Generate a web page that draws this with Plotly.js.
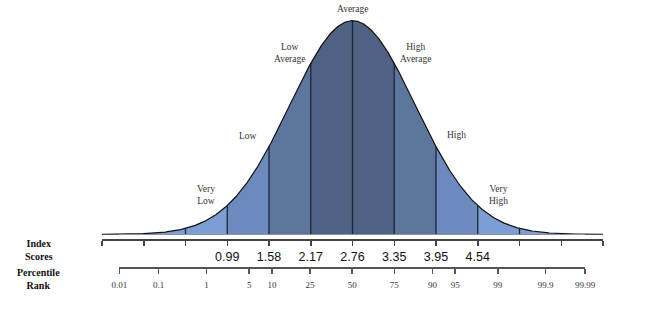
<!DOCTYPE html>
<html>
<head>
<meta charset="utf-8">
<script src="https://cdn.plot.ly/plotly-3.0.1.min.js"></script>
<style>html,body{margin:0;padding:0;background:#fff}#chart{width:650px;height:321px}</style>
</head>
<body>
<div id="chart"></div>
<script>
// ---- data ----
var categories = ['Very<br>Low', 'Low', 'Low<br>Average', 'Average', 'High<br>Average', 'High', 'Very<br>High'];
var categoryCenters = [-3.5, -2.5, -1.5, 0, 1.5, 2.5, 3.5];          // in band units (1 band = 2/3 SD)
var categoryLabelHeights = [0.183, 0.461, 0.851, 1.055, 0.851, 0.465, 0.183]; // relative to peak
var bandEdges = [-6, -5, -4, -3, -2, -1, 0, 1, 2, 3, 4, 5, 6];        // index-score tick positions
var indexScoreLabels = ['', '', '', '0.99', '1.58', '2.17', '2.76', '3.35', '3.95', '4.54', '', '', ''];
var dividerPositions = [-4, -3, -2, -1, 0, 1, 2, 3, 4];
var percentileLabels = ['0.01', '0.1', '1', '5', '10', '25', '50', '75', '90', '95', '99', '99.9', '99.99'];
var percentileZ = [-3.719, -3.090, -2.326, -1.645, -1.282, -0.674, 0, 0.674, 1.282, 1.645, 2.326, 3.090, 3.719];
var curveSigma = 1.5; // SD of the curve in band units
var fillSegments = [[-6, -3], [-3, -2], [-2, -1], [-1, 1], [1, 2], [2, 3], [3, 6]];
var fillColors = ['#7d9ed5', '#6c8abd', '#5c769e', '#4e6283', '#5c769e', '#6c8abd', '#7d9ed5'];

// ---- helpers ----
function curve(t) { return Math.exp(-t * t / (2 * curveSigma * curveSigma)); }
function sample(a, b) {
  var xs = [], ys = [], n = Math.max(20, Math.round((b - a) * 60));
  for (var i = 0; i <= n; i++) { var t = a + (b - a) * i / n; xs.push(t); ys.push(curve(t)); }
  return {x: xs, y: ys};
}

var traces = [];
// percentile axis carrier (invisible), placed first so its subplot sits underneath
var pctPos = percentileZ.map(function (z) { return z * curveSigma; });
traces.push({x: [pctPos[0], pctPos[pctPos.length - 1]], y: [0, 0], xaxis: 'x2', yaxis: 'y',
  type: 'scatter', mode: 'markers', marker: {opacity: 0}, hoverinfo: 'skip', showlegend: false});
fillSegments.forEach(function (seg, i) {
  var s = sample(seg[0], seg[1]);
  traces.push({x: s.x, y: s.y, type: 'scatter', mode: 'lines', fill: 'tozeroy',
    fillcolor: fillColors[i], line: {width: 0}, hoverinfo: 'skip', showlegend: false});
});
var vx = [], vy = [];
dividerPositions.forEach(function (p) { vx.push(p, p, null); vy.push(0, curve(p), null); });
traces.push({x: vx, y: vy, type: 'scatter', mode: 'lines', line: {color: '#1c2535', width: 1.3},
  hoverinfo: 'skip', showlegend: false});
var full = sample(-6, 6);
traces.push({x: full.x, y: full.y, type: 'scatter', mode: 'lines', line: {color: '#111', width: 1.2},
  hoverinfo: 'skip', showlegend: false});

var annotations = categories.map(function (c, i) {
  return {x: categoryCenters[i], y: categoryLabelHeights[i], xref: 'x', yref: 'y', text: c,
    showarrow: false, xanchor: 'center', yanchor: 'middle',
    font: {family: 'Liberation Serif, Times New Roman, serif', size: 9.5, color: '#333'}};
});
annotations.push({x: -0.126, y: (321 - 250) / 321, xref: 'paper', yref: 'paper', text: '<b>Index<br>Scores</b>',
  showarrow: false, xanchor: 'center', yanchor: 'middle',
  font: {family: 'Liberation Serif, Times New Roman, serif', size: 10, color: '#111'}});
annotations.push({x: -0.126, y: (321 - 278.5) / 321, xref: 'paper', yref: 'paper', text: '<b>Percentile<br>Rank</b>',
  showarrow: false, xanchor: 'center', yanchor: 'middle',
  font: {family: 'Liberation Serif, Times New Roman, serif', size: 10, color: '#111'}});

var layout = {
  width: 650, height: 321,
  margin: {l: 102, r: 47, t: 0, b: 0},
  paper_bgcolor: '#fff', plot_bgcolor: 'rgba(0,0,0,0)',
  showlegend: false,
  xaxis: {range: [-6, 6], anchor: 'free', position: (321 - 239.3) / 321,
    showgrid: false, zeroline: false, showline: true, linecolor: '#444', linewidth: 1.5,
    ticks: 'outside', ticklen: 5, tickwidth: 1.5, tickcolor: '#444',
    tickmode: 'array', tickvals: bandEdges, ticktext: indexScoreLabels, ticklabelstandoff: 0,
    tickfont: {family: 'Liberation Sans, Arial, sans-serif', size: 12.5, color: '#111'}},
  xaxis2: {range: [pctPos[0], pctPos[pctPos.length - 1]], anchor: 'free', position: (321 - 267) / 321,
    domain: [(119.3 - 102) / 501, (585 - 102) / 501],
    showgrid: false, zeroline: false, showline: true, linecolor: '#555', linewidth: 1.5,
    ticks: 'outside', ticklen: 5, tickwidth: 1.5, tickcolor: '#555',
    tickmode: 'array', tickvals: pctPos, ticktext: percentileLabels, ticklabelstandoff: 4,
    tickfont: {family: 'Liberation Serif, Times New Roman, serif', size: 9, color: '#333'}},
  yaxis: {range: [0, 1.0968], domain: [(321 - 234.5) / 321, 1], anchor: 'x',
    showgrid: false, showline: false, showticklabels: false, ticks: '',
    zeroline: true, zerolinecolor: '#8a93a0', zerolinewidth: 1},
  annotations: annotations
};

Plotly.newPlot('chart', traces, layout, {displayModeBar: false, staticPlot: true});
</script>
</body>
</html>
